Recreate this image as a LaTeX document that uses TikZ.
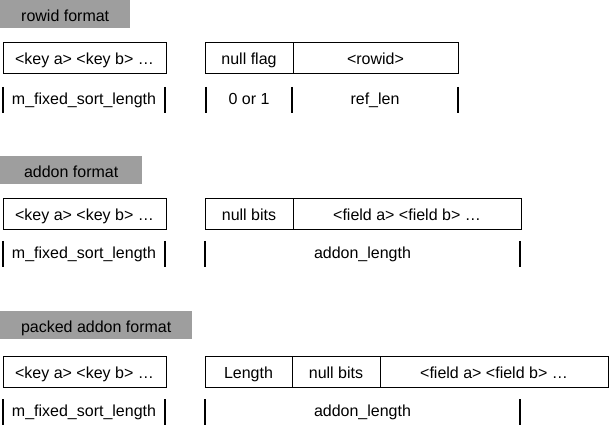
\documentclass[tikz,border=0pt]{standalone}
\usepackage{fontspec}
\setmainfont{Liberation Sans}
\usetikzlibrary{positioning,calc}
\definecolor{labelGray}{RGB}{158,158,158}
\newcommand{\myBar}[3]{%%
  %% Draw one length bar: name, x, top y.
  \coordinate (#1t) at (#2,#3);
  \coordinate (#1b) at (#2,#3+26);
  \draw[barStyle] (#1t) -- (#1b);
}
\newcommand{\myLength}[4]{%%
  %% Label the length between two bars.
  \node[lenStyle] (#1) at ($(#2t)!0.5!(#3b)$) {#4};
}

\begin{document}
\begin{tikzpicture}[%%
  x=1pt,y=-1pt,
  every node/.style={font=\fontsize{16}{19}\selectfont,text height=15pt,text depth=1pt},
  fmtStyle/.style={fill=labelGray,anchor=north west,inner sep=0pt,minimum height=28pt},
  cellStyle/.style={draw,anchor=north west,inner sep=0pt,outer sep=0pt,minimum height=31pt,line width=0.9pt},
  nextCell/.style={draw,inner sep=0pt,outer sep=0pt,minimum height=31pt,line width=0.9pt},
  barStyle/.style={line width=2pt},
  lenStyle/.style={inner sep=0pt,text height=11pt,text depth=2pt}
]
\useasboundingbox (0,0) rectangle (610,427);
%%
%% The rowid format.
\node[fmtStyle,minimum width=130pt] (rowidFmt) at (0,0) {rowid format};
\node[cellStyle,minimum width=163pt] (keysA) at (3,42) {<key a> <key b> …};
\node[cellStyle,minimum width=88pt] (nullFlag) at (205,42) {null flag};
\node[nextCell,minimum width=165pt,right=0pt of nullFlag] (rowid) {<rowid>};
\myBar{aA}{3}{87}
\myBar{aB}{165}{87}
\myBar{aC}{206}{87}
\myBar{aD}{292}{87}
\myBar{aE}{458}{87}
\myLength{lenKeyA}{aA}{aB}{m\_fixed\_sort\_length}
\myLength{lenFlag}{aC}{aD}{0 or 1}
\myLength{lenRef}{aD}{aE}{ref\_len}
%%
%% The addon format.
\node[fmtStyle,minimum width=142pt] (addonFmt) at (0,156) {addon format};
\node[cellStyle,minimum width=163pt] (keysB) at (3,198) {<key a> <key b> …};
\node[cellStyle,minimum width=88pt] (nullBitsB) at (205,198) {null bits};
\node[nextCell,minimum width=228pt,right=0pt of nullBitsB] (fieldsB) {<field a> <field b> …};
\myBar{bA}{3}{241}
\myBar{bB}{165}{241}
\myBar{bC}{205}{241}
\myBar{bD}{520}{241}
\myLength{lenKeyB}{bA}{bB}{m\_fixed\_sort\_length}
\myLength{lenAddonB}{bC}{bD}{addon\_length}
%%
%% The packed addon format.
\node[fmtStyle,minimum width=192pt] (packedFmt) at (0,311) {packed addon format};
\node[cellStyle,minimum width=163pt] (keysC) at (3,356) {<key a> <key b> …};
\node[cellStyle,minimum width=87pt] (lengthC) at (205,356) {Length};
\node[nextCell,minimum width=88pt,right=0pt of lengthC] (nullBitsC) {null bits};
\node[nextCell,minimum width=228pt,right=0pt of nullBitsC] (fieldsC) {<field a> <field b> …};
\myBar{cA}{3}{399}
\myBar{cB}{165}{399}
\myBar{cC}{205}{399}
\myBar{cD}{520}{399}
\myLength{lenKeyC}{cA}{cB}{m\_fixed\_sort\_length}
\myLength{lenAddonC}{cC}{cD}{addon\_length}
\end{tikzpicture}
\end{document}
